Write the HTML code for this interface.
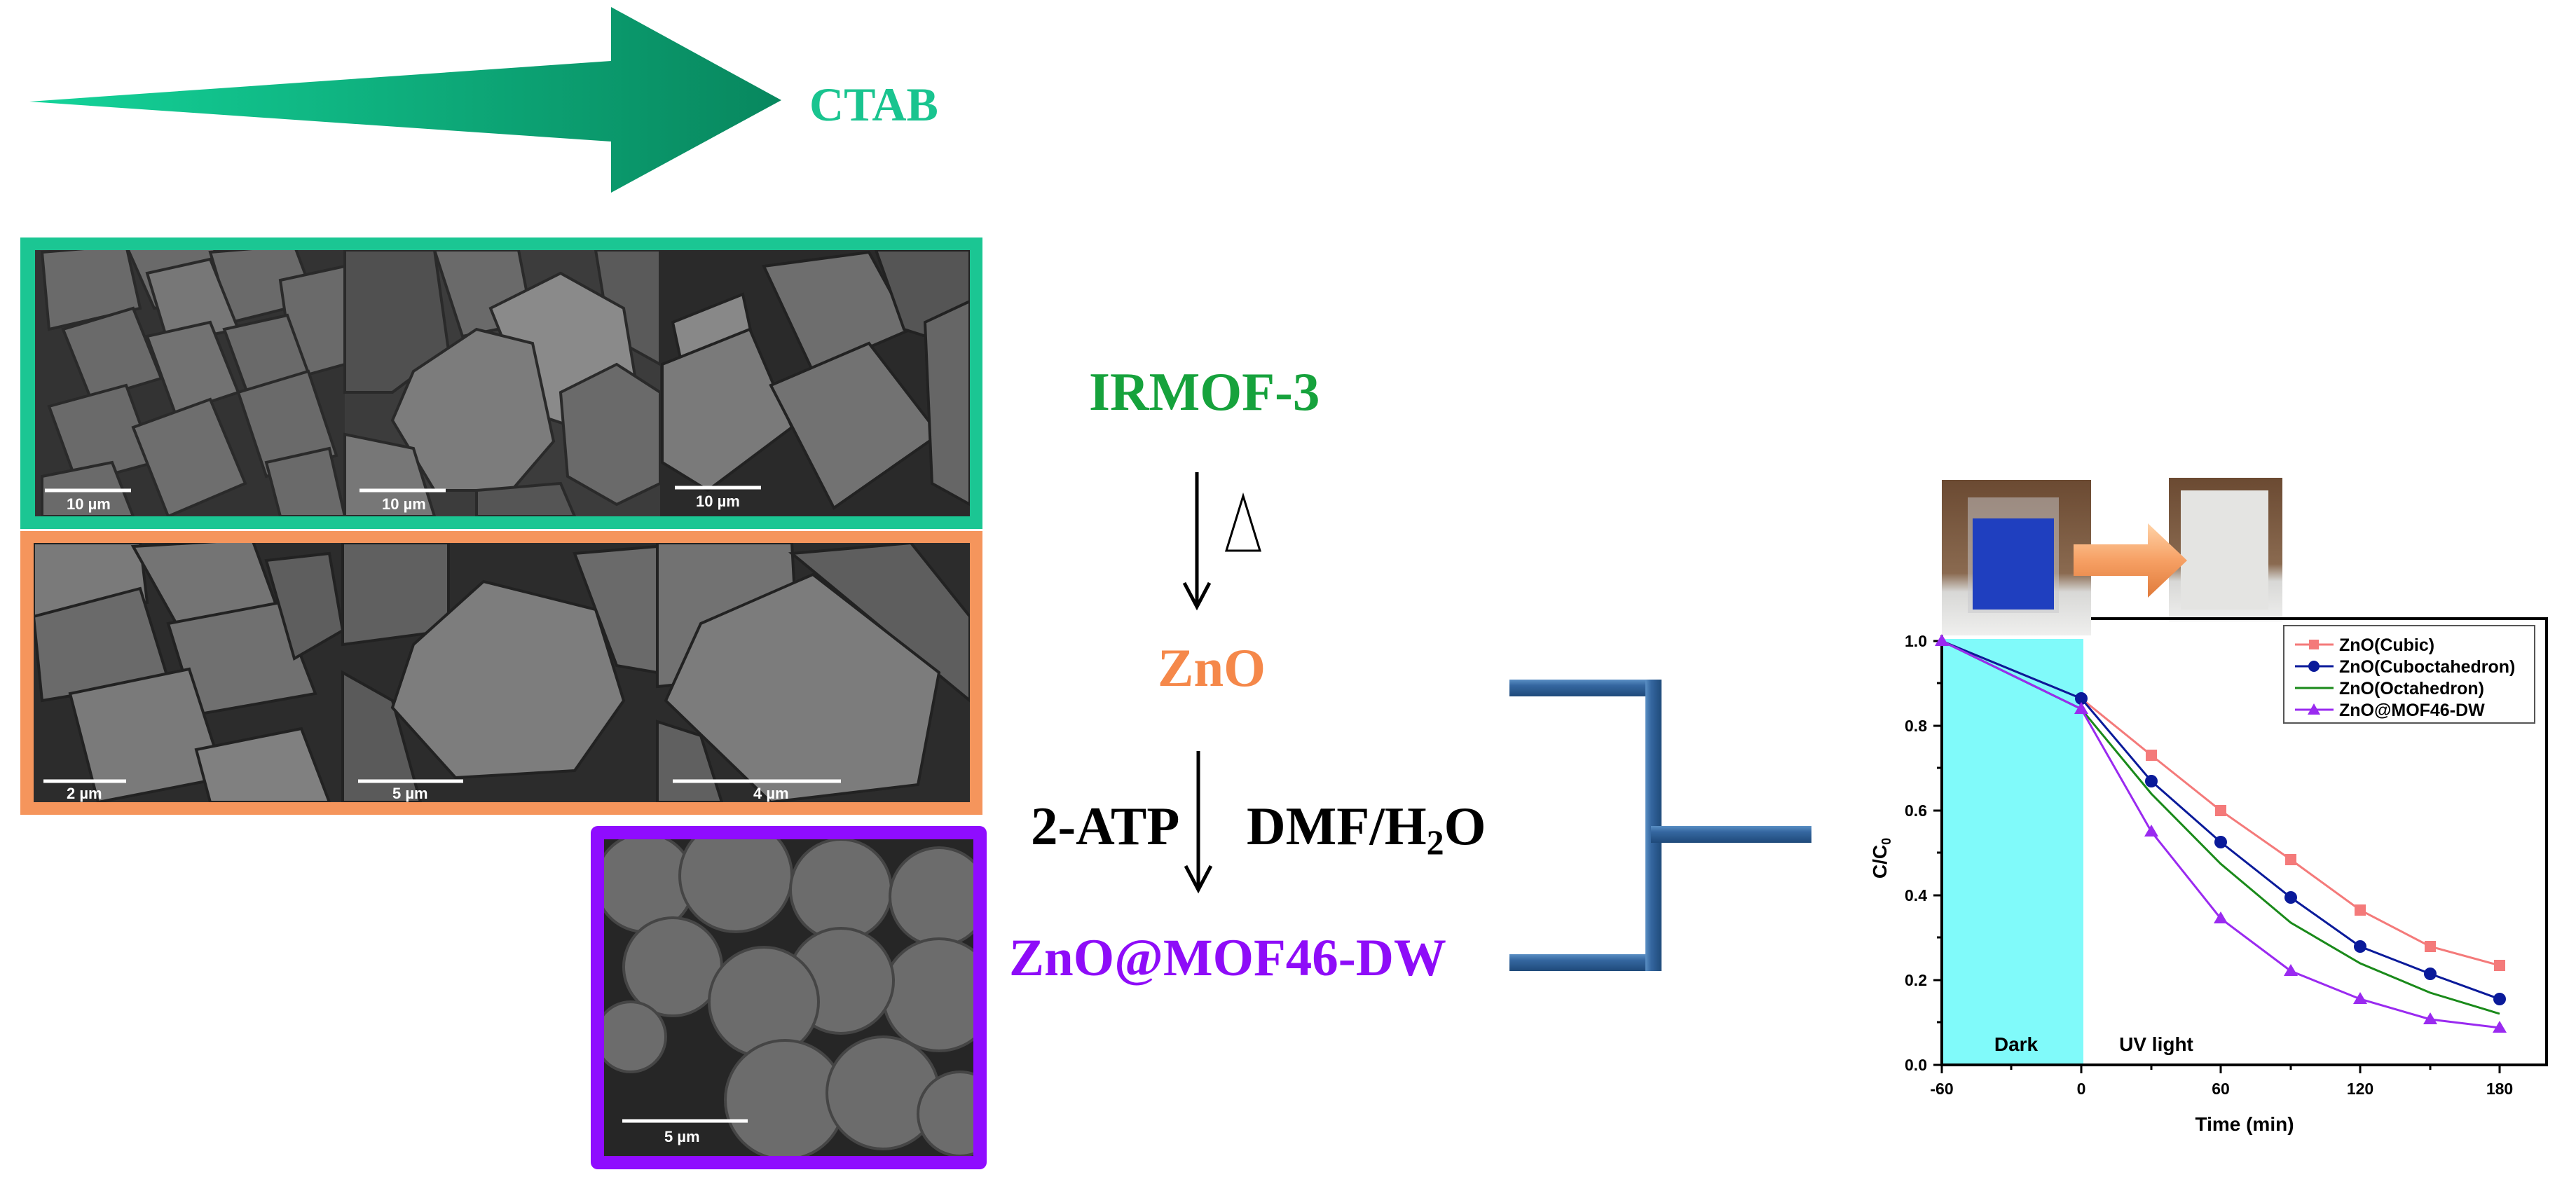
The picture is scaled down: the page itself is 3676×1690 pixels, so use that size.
<!DOCTYPE html>
<html><head><meta charset="utf-8"><style>
html,body{margin:0;padding:0;background:#fff;}
svg{display:block;}
.tb{font-family:"Liberation Serif",serif;font-weight:bold;}
.ar{font-family:"Liberation Sans",sans-serif;font-weight:bold;}
</style></head><body>
<svg width="3676" height="1690" viewBox="0 0 3676 1690" xmlns="http://www.w3.org/2000/svg">
<defs>
<linearGradient id="ag" x1="0" x2="1" y1="0" y2="0"><stop offset="0" stop-color="#14d49a"/><stop offset="1" stop-color="#08875e"/></linearGradient>
<linearGradient id="bv" x1="0" x2="0" y1="0" y2="1"><stop offset="0" stop-color="#5a8fc4"/><stop offset="0.35" stop-color="#3567a0"/><stop offset="1" stop-color="#1f4a7a"/></linearGradient>
<linearGradient id="bh" x1="0" x2="1" y1="0" y2="0"><stop offset="0" stop-color="#5a8fc4"/><stop offset="0.35" stop-color="#3567a0"/><stop offset="1" stop-color="#1f4a7a"/></linearGradient>
<linearGradient id="oa" x1="0" x2="0" y1="0" y2="1"><stop offset="0" stop-color="#ffd3a8"/><stop offset="0.5" stop-color="#f6a064"/><stop offset="1" stop-color="#e07a3a"/></linearGradient>
<linearGradient id="ph" x1="0" x2="0" y1="0" y2="1"><stop offset="0" stop-color="#6b4a32"/><stop offset="0.6" stop-color="#8a6a50"/><stop offset="0.72" stop-color="#d8d8d6"/><stop offset="1" stop-color="#efefee"/></linearGradient>
<clipPath id="cg"><rect x="50" y="357" width="1334" height="380"/></clipPath>
<clipPath id="co"><rect x="48" y="775" width="1336" height="370"/></clipPath>
<clipPath id="cp"><rect x="862" y="1198" width="527" height="452"/></clipPath>
</defs>

<polygon points="42,145 872,87 872,10 1115,143 872,275 872,202" fill="url(#ag)"/>
<text x="1155" y="172" class="tb" font-size="68" fill="#19c48f">CTAB</text>

<!-- green box -->
<rect x="29" y="339" width="1373" height="416" fill="#1bc693"/>
<rect x="50" y="357" width="1334" height="380" fill="#333"/>
<g clip-path="url(#cg)">
<g fill="#6a6a6a" stroke="#2a2a2a" stroke-width="4">
<polygon points="60,360 180,350 200,440 70,470"/>
<polygon points="180,350 300,340 330,420 220,440"/>
<polygon points="300,360 420,350 450,430 330,460"/>
<polygon points="400,400 492,380 492,520 420,540"/>
<polygon points="210,390 300,370 340,470 240,490" fill="#777"/>
<polygon points="90,470 190,440 230,540 130,570"/>
<polygon points="210,480 300,460 340,560 250,590" fill="#727272"/>
<polygon points="320,470 410,450 450,560 360,580"/>
<polygon points="70,580 180,550 220,660 110,690"/>
<polygon points="190,610 300,570 350,690 240,737" fill="#6e6e6e"/>
<polygon points="340,560 440,530 480,650 380,680"/>
<polygon points="60,680 160,660 190,737 60,737"/>
<polygon points="380,660 470,640 492,737 400,737"/>
</g>
<rect x="492" y="357" width="450" height="380" fill="#3c3c3c"/>
<g stroke="#2a2a2a" stroke-width="4">
<polygon points="492,357 620,357 640,500 560,560 492,560" fill="#505050"/>
<polygon points="620,357 740,357 760,460 660,480" fill="#6a6a6a"/>
<polygon points="850,357 942,357 942,520 870,480" fill="#5a5a5a"/>
<polygon points="700,440 800,390 890,440 910,560 850,620 760,590" fill="#8a8a8a"/>
<polygon points="590,530 680,470 760,490 790,630 730,700 620,700 560,600" fill="#7c7c7c"/>
<polygon points="800,560 880,520 942,560 942,690 880,720 810,680" fill="#6a6a6a"/>
<polygon points="492,620 590,640 620,737 492,737" fill="#777"/>
<polygon points="680,700 800,690 820,737 680,737" fill="#555"/>
</g>
<rect x="942" y="357" width="442" height="380" fill="#2a2a2a"/>
<g stroke="#222" stroke-width="4">
<polygon points="960,460 1060,420 1090,560 990,600" fill="#888"/>
<polygon points="1090,380 1240,360 1300,470 1160,530" fill="#6e6e6e"/>
<polygon points="1250,357 1384,357 1384,500 1290,470" fill="#555"/>
<polygon points="945,520 1070,470 1130,610 1010,700 945,660" fill="#7a7a7a"/>
<polygon points="1100,550 1240,490 1340,620 1190,725" fill="#727272"/>
<polygon points="1320,460 1384,430 1384,720 1330,690" fill="#666"/>
</g>
</g>
<g stroke="#fff" stroke-width="5">
<line x1="64" y1="700" x2="187" y2="700"/><line x1="513" y1="700" x2="636" y2="700"/><line x1="963" y1="696" x2="1086" y2="696"/>
</g>
<g class="ar" font-size="22" fill="#fff"><text x="95" y="727">10 µm</text><text x="545" y="727">10 µm</text><text x="993" y="723">10 µm</text></g>

<!-- orange box -->
<rect x="29" y="758" width="1373" height="405" fill="#f5955c"/>
<rect x="48" y="775" width="1336" height="370" fill="#2c2c2c"/>
<g clip-path="url(#co)">
<g stroke="#222" stroke-width="4">
<polygon points="48,775 200,775 210,860 48,880" fill="#7a7a7a"/>
<polygon points="190,780 360,770 400,880 260,905" fill="#747474"/>
<polygon points="48,880 200,840 240,970 60,1000" fill="#6a6a6a"/>
<polygon points="240,890 400,860 450,990 280,1020" fill="#707070"/>
<polygon points="100,990 270,955 320,1110 140,1145" fill="#7a7a7a"/>
<polygon points="280,1070 430,1040 470,1145 300,1145" fill="#808080"/>
<polygon points="380,800 470,790 489,900 420,940" fill="#5e5e5e"/>
<polygon points="489,775 640,775 640,900 489,920" fill="#606060"/>
<polygon points="489,960 560,1000 600,1145 489,1145" fill="#5a5a5a"/>
<polygon points="590,920 690,830 850,870 890,1000 820,1100 650,1110 560,1010" fill="#7d7d7d"/>
<polygon points="820,790 938,780 938,960 880,950" fill="#6a6a6a"/>
<polygon points="938,775 1130,775 1140,960 938,980" fill="#727272"/>
<polygon points="1130,790 1300,775 1384,880 1384,1000" fill="#5e5e5e"/>
<polygon points="1000,890 1160,820 1340,960 1310,1120 1100,1145 950,1000" fill="#7c7c7c"/>
<polygon points="938,1030 1000,1050 1030,1145 938,1145" fill="#606060"/>
</g>
</g>
<g stroke="#fff" stroke-width="5">
<line x1="62" y1="1115" x2="180" y2="1115"/><line x1="511" y1="1115" x2="661" y2="1115"/><line x1="960" y1="1115" x2="1200" y2="1115"/>
</g>
<g class="ar" font-size="22" fill="#fff"><text x="95" y="1140">2 µm</text><text x="560" y="1140">5 µm</text><text x="1075" y="1140">4 µm</text></g>

<!-- purple box -->
<rect x="843" y="1179" width="565" height="490" rx="10" fill="#8f0cff"/>
<rect x="862" y="1198" width="527" height="452" fill="#262626"/>
<g clip-path="url(#cp)">
<g fill="#6c6c6c" stroke="#454545" stroke-width="4">
<circle cx="920" cy="1260" r="70"/><circle cx="1050" cy="1250" r="80"/><circle cx="1200" cy="1270" r="72"/>
<circle cx="1340" cy="1280" r="70"/><circle cx="1340" cy="1420" r="80"/><circle cx="1200" cy="1400" r="75"/>
<circle cx="960" cy="1380" r="70"/><circle cx="1090" cy="1430" r="78"/><circle cx="1120" cy="1570" r="85"/>
<circle cx="1260" cy="1560" r="80"/><circle cx="1370" cy="1590" r="60"/><circle cx="900" cy="1480" r="50"/>
</g>
</g>
<line x1="888" y1="1600" x2="1067" y2="1600" stroke="#fff" stroke-width="5"/>
<text x="948" y="1630" class="ar" font-size="22" fill="#fff">5 µm</text>

<!-- center text and arrows -->
<text x="1554" y="585" class="tb" font-size="77" fill="#16a23c">IRMOF-3</text>
<line x1="1708" y1="674" x2="1708" y2="862" stroke="#000" stroke-width="5"/>
<polyline points="1690,832 1708,866 1726,832" fill="none" stroke="#000" stroke-width="5"/>
<polygon points="1774,708 1798,786 1750,786" fill="none" stroke="#000" stroke-width="3"/>
<text x="1652" y="979" class="tb" font-size="77" fill="#f5884a">ZnO</text>
<line x1="1710" y1="1072" x2="1710" y2="1266" stroke="#000" stroke-width="5"/>
<polyline points="1692,1236 1710,1270 1728,1236" fill="none" stroke="#000" stroke-width="5"/>
<text x="1471" y="1205" class="tb" font-size="77" fill="#000">2-ATP</text>
<text x="1779" y="1205" class="tb" font-size="77" fill="#000">DMF/H<tspan font-size="50" dy="14">2</tspan><tspan dy="-14">O</tspan></text>
<text x="1440" y="1392" class="tb" font-size="75" fill="#8e0cf8">ZnO@MOF46-DW</text>

<!-- bracket -->
<rect x="2154" y="970" width="217" height="24" fill="url(#bv)"/>
<rect x="2154" y="1362" width="217" height="24" fill="url(#bv)"/>
<rect x="2348" y="970" width="23" height="416" fill="url(#bh)"/>
<rect x="2356" y="1179" width="229" height="24" fill="url(#bv)"/>

<!-- photos -->
<rect x="2771" y="685" width="213" height="222" fill="url(#ph)"/>
<rect x="2808" y="710" width="130" height="165" fill="#c8c8cc" opacity="0.5"/>
<rect x="2815" y="740" width="116" height="130" fill="#1f3fbf"/>
<rect x="3095" y="682" width="162" height="205" fill="url(#ph)"/>
<rect x="3112" y="700" width="125" height="170" fill="#e4e4e2"/>
<polygon points="2959,777 3065,777 3065,747 3121,800 3065,853 3065,822 2959,822" fill="url(#oa)"/>

<!-- chart -->
<rect x="2771" y="912" width="202" height="608" fill="#80fafa"/>
<polyline points="2984,883 3634,883 3634,1520 2771,1520 2771,907" fill="none" stroke="#000" stroke-width="4"/>
<g stroke="#000" stroke-width="3">
<line x1="2771" y1="915" x2="2759" y2="915"/><line x1="2771" y1="1036" x2="2759" y2="1036"/><line x1="2771" y1="1157" x2="2759" y2="1157"/><line x1="2771" y1="1278" x2="2759" y2="1278"/><line x1="2771" y1="1399" x2="2759" y2="1399"/><line x1="2771" y1="1520" x2="2759" y2="1520"/>
<line x1="2771" y1="975" x2="2764" y2="975"/><line x1="2771" y1="1096" x2="2764" y2="1096"/><line x1="2771" y1="1217" x2="2764" y2="1217"/><line x1="2771" y1="1338" x2="2764" y2="1338"/><line x1="2771" y1="1459" x2="2764" y2="1459"/>
<line x1="2771" y1="1520" x2="2771" y2="1532"/><line x1="2970" y1="1520" x2="2970" y2="1532"/><line x1="3169" y1="1520" x2="3169" y2="1532"/><line x1="3368" y1="1520" x2="3368" y2="1532"/><line x1="3567" y1="1520" x2="3567" y2="1532"/>
<line x1="2870" y1="1520" x2="2870" y2="1527"/><line x1="3070" y1="1520" x2="3070" y2="1527"/><line x1="3269" y1="1520" x2="3269" y2="1527"/><line x1="3468" y1="1520" x2="3468" y2="1527"/>
</g>
<g class="ar" font-size="23" fill="#000" text-anchor="end">
<text x="2750" y="923">1.0</text><text x="2750" y="1044">0.8</text><text x="2750" y="1165">0.6</text><text x="2750" y="1286">0.4</text><text x="2750" y="1407">0.2</text><text x="2750" y="1528">0.0</text>
</g>
<g class="ar" font-size="23" fill="#000" text-anchor="middle">
<text x="2771" y="1562">-60</text><text x="2970" y="1562">0</text><text x="3169" y="1562">60</text><text x="3368" y="1562">120</text><text x="3567" y="1562">180</text>
</g>
<text x="3203" y="1614" class="ar" font-size="28" text-anchor="middle">Time (min)</text>
<text transform="translate(2692,1225) rotate(-90)" class="ar" font-size="28" text-anchor="middle">C/C<tspan font-size="18" dy="6">0</tspan></text>
<text x="2877" y="1500" class="ar" font-size="28" text-anchor="middle">Dark</text>
<text x="3077" y="1500" class="ar" font-size="28" text-anchor="middle">UV light</text>

<polyline points="2771,915 2970,997 3070,1078 3169,1157 3269,1227 3368,1299 3468,1351 3567,1378" fill="none" stroke="#f47a7a" stroke-width="3"/>
<polyline points="2771,915 2970,997 3070,1115 3169,1202 3269,1281 3368,1351 3468,1390 3567,1426" fill="none" stroke="#0a1a9a" stroke-width="3"/>
<polyline points="2771,915 2970,1012 3070,1133 3169,1233 3269,1317 3368,1375 3468,1417 3567,1447" fill="none" stroke="#1a8a1a" stroke-width="3"/>
<polyline points="2771,915 2970,1012 3070,1187 3169,1311 3269,1386 3368,1426 3468,1455 3567,1467" fill="none" stroke="#9a2af0" stroke-width="3"/>
<g fill="#f47a7a"><rect x="3062" y="1070" width="16" height="16"/><rect x="3161" y="1149" width="16" height="16"/><rect x="3261" y="1219" width="16" height="16"/><rect x="3360" y="1291" width="16" height="16"/><rect x="3460" y="1343" width="16" height="16"/><rect x="3559" y="1370" width="16" height="16"/></g>
<g fill="#0a1a9a"><circle cx="2970" cy="997" r="9"/><circle cx="3070" cy="1115" r="9"/><circle cx="3169" cy="1202" r="9"/><circle cx="3269" cy="1281" r="9"/><circle cx="3368" cy="1351" r="9"/><circle cx="3468" cy="1390" r="9"/><circle cx="3567" cy="1426" r="9"/></g>
<g fill="#9a2af0"><polygon points="2771,905 2781,922 2761,922"/><polygon points="2970,1002 2980,1019 2960,1019"/><polygon points="3070,1177 3080,1194 3060,1194"/><polygon points="3169,1301 3179,1318 3159,1318"/><polygon points="3269,1376 3279,1393 3259,1393"/><polygon points="3368,1416 3378,1433 3358,1433"/><polygon points="3468,1445 3478,1462 3458,1462"/><polygon points="3567,1457 3577,1474 3557,1474"/></g>

<rect x="3259" y="893" width="358" height="139" fill="#fff" stroke="#555" stroke-width="2"/>
<g stroke-width="3">
<line x1="3275" y1="920" x2="3330" y2="920" stroke="#f47a7a"/><line x1="3275" y1="951" x2="3330" y2="951" stroke="#0a1a9a"/><line x1="3275" y1="982" x2="3330" y2="982" stroke="#1a8a1a"/><line x1="3275" y1="1013" x2="3330" y2="1013" stroke="#9a2af0"/>
</g>
<rect x="3295" y="913" width="14" height="14" fill="#f47a7a"/><circle cx="3302" cy="951" r="8" fill="#0a1a9a"/><polygon points="3302,1004 3311,1020 3293,1020" fill="#9a2af0"/>
<g class="ar" font-size="25" fill="#000">
<text x="3338" y="929">ZnO(Cubic)</text><text x="3338" y="960">ZnO(Cuboctahedron)</text><text x="3338" y="991">ZnO(Octahedron)</text><text x="3338" y="1022">ZnO@MOF46-DW</text>
</g>
</svg>
</body></html>
